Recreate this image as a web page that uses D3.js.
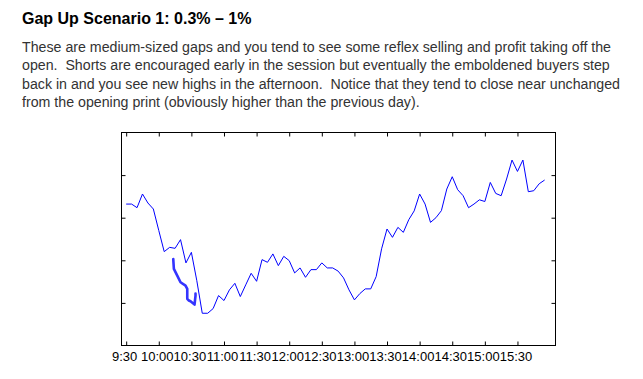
<!DOCTYPE html>
<html><head><meta charset="utf-8">
<script src="https://cdn.jsdelivr.net/npm/d3@7"></script>
<style>
body{margin:0;background:#fff;}
svg{display:block;font-family:Arial,"Liberation Sans",sans-serif;}
</style></head>
<body>
<svg id="c" width="643" height="379"></svg>
<script>
const title = "Gap Up Scenario 1: 0.3% \u2013 1%";
const paragraph = [
  "These are medium-sized gaps and you tend to see some reflex selling and profit taking off the",
  "open.  Shorts are encouraged early in the session but eventually the emboldened buyers step",
  "back in and you see new highs in the afternoon.  Notice that they tend to close near unchanged",
  "from the opening print (obviously higher than the previous day)."
];
// minutes after 9:30 for tick marks and their labels
const tickMinutes = [0,30,60,90,120,150,180,210,240,270,300,330,360];
const tickLabels = ["9:30","10:00","10:30","11:00","11:30","12:00","12:30","13:00","13:30","14:00","14:30","15:00","15:30"];
const barMinutes = 5; // one value every 5 minutes from 9:30
const values = [3.32,3.32,3.235,3.556,3.345,3.204,2.70,2.203,2.304,2.281,
  2.485,1.939,2.187,1.52,0.757,0.757,0.867,1.172,1.055,1.306,
  1.46,1.149,1.423,1.695,1.507,2.016,1.953,2.150,1.875,2.093,
  1.992,1.704,1.821,1.601,1.781,1.781,1.939,1.821,1.821,1.746,
  1.587,1.306,1.071,1.219,1.329,1.329,1.617,2.27,2.735,2.539,
  2.773,2.656,2.953,3.16,3.556,3.32,2.89,3.0,3.165,3.673,
  3.962,3.657,3.516,3.235,3.32,3.42,3.38,3.828,3.57,3.516,
  3.908,4.353,4.086,4.353,3.61,3.633,3.797,3.884];
// hand-drawn annotation stroke: [minutes after 9:30, value]
const annotation = [[43.3,2.032],[43.9,1.798],[47,1.641],[50,1.484],[54.6,1.406],[56.2,1.329],
  [56.2,1.095],[57.7,1.055],[59.2,1.038],[62.9,0.961],[63.8,1.172],[63.8,1.219]];
const yTicks = [1,2,3,4];

const svg = d3.select("#c");
svg.append("text").attr("x",22).attr("y",24.3)
  .attr("font-size",16).attr("font-weight","bold").attr("fill","#000").text(title);
svg.append("g").attr("transform","translate(22,0) scale(0.947,1)")
  .selectAll("text").data(paragraph).join("text")
  .attr("x",0).attr("y",(d,i)=>51.6+i*18.5)
  .attr("font-size",15).attr("fill","#333").attr("xml:space","preserve")
  .style("white-space","pre").text(d=>d);

const L=121.5,R=555.5,T=132.5,B=345.5;
const x = d3.scaleLinear().domain([-4.3,395]).range([L,R]);
const y = d3.scaleLinear().domain([0,5]).range([B,T]);

function clean(g){ g.select(".domain").remove(); g.selectAll("line").attr("stroke","#000"); }
svg.append("g").attr("transform",`translate(0,${B})`)
  .call(d3.axisBottom(x).tickValues(tickMinutes).tickFormat((d,i)=>tickLabels[i]).tickSizeInner(-4).tickSizeOuter(0).tickPadding(6))
  .call(clean)
  .call(g=>g.selectAll("text").attr("font-size",13).attr("font-family","Arial, 'Liberation Sans', sans-serif").attr("fill","#000").attr("dx",-2));
svg.append("g").attr("transform",`translate(0,${T})`)
  .call(d3.axisTop(x).tickValues(tickMinutes).tickFormat("").tickSizeInner(-4).tickSizeOuter(0)).call(clean);
svg.append("g").attr("transform",`translate(${L},0)`)
  .call(d3.axisLeft(y).tickValues(yTicks).tickFormat("").tickSizeInner(-4).tickSizeOuter(0)).call(clean);
svg.append("g").attr("transform",`translate(${R},0)`)
  .call(d3.axisRight(y).tickValues(yTicks).tickFormat("").tickSizeInner(-4).tickSizeOuter(0)).call(clean);

svg.append("rect").attr("x",L).attr("y",T).attr("width",R-L).attr("height",B-T)
  .attr("fill","none").attr("stroke","#000").attr("stroke-width",1);

const line = d3.line().x((d,i)=>x(i*barMinutes)).y(d=>y(d));
svg.append("path").datum(values).attr("d",line)
  .attr("fill","none").attr("stroke","#0000ff").attr("stroke-width",1);

svg.append("path").datum(annotation)
  .attr("d",d3.line().x(d=>x(d[0])).y(d=>y(d[1])))
  .attr("fill","none").attr("stroke","#1e1eff").attr("stroke-width",2.6)
  .attr("stroke-linecap","round").attr("stroke-linejoin","round").attr("opacity",0.9);
</script>
</body></html>
